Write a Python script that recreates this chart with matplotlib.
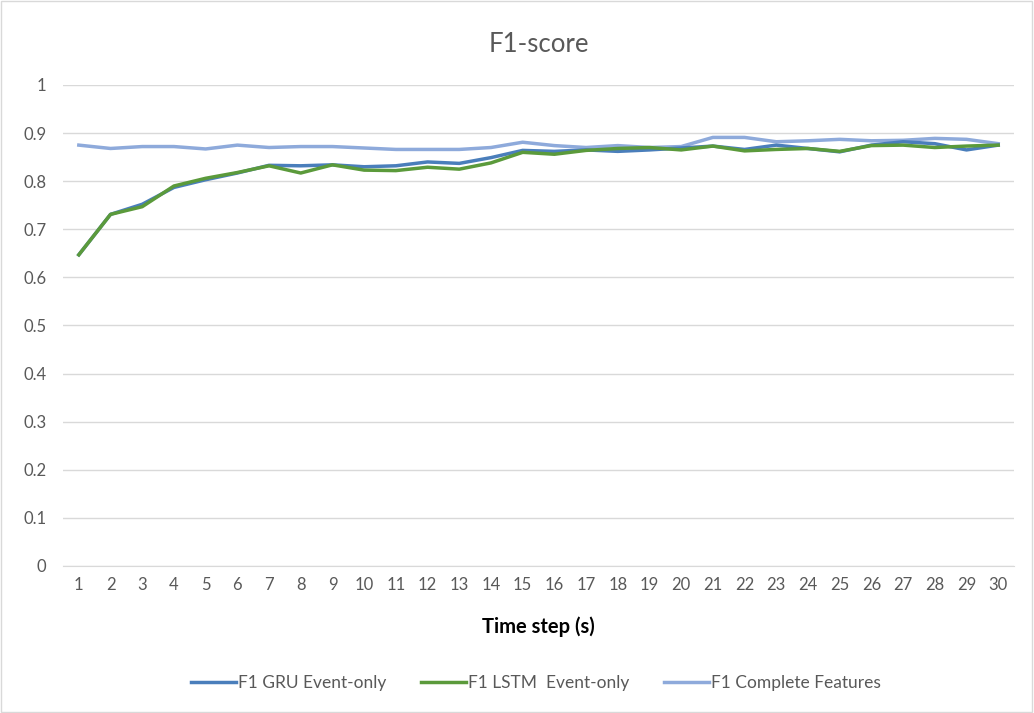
import numpy as np
import matplotlib
matplotlib.use('Agg')
import matplotlib.pyplot as plt
import matplotlib.patches as mpatches

plt.rcParams['font.family'] = ['Lato', 'DejaVu Sans']

steps = list(range(1, 31))
gru = [0.647, 0.731, 0.752, 0.787, 0.803, 0.817, 0.833, 0.832, 0.834, 0.830,
       0.832, 0.840, 0.837, 0.849, 0.864, 0.862, 0.865, 0.862, 0.865, 0.869,
       0.873, 0.866, 0.875, 0.868, 0.861, 0.875, 0.882, 0.878, 0.865, 0.875]
lstm = [0.647, 0.731, 0.747, 0.790, 0.806, 0.818, 0.832, 0.817, 0.834, 0.823,
        0.822, 0.829, 0.825, 0.838, 0.860, 0.856, 0.864, 0.868, 0.870, 0.865,
        0.873, 0.863, 0.866, 0.868, 0.862, 0.874, 0.875, 0.870, 0.873, 0.875]
complete = [0.875, 0.868, 0.872, 0.872, 0.867, 0.875, 0.870, 0.872, 0.872, 0.869,
            0.866, 0.866, 0.866, 0.870, 0.881, 0.874, 0.870, 0.874, 0.870, 0.872,
            0.891, 0.891, 0.882, 0.884, 0.887, 0.884, 0.885, 0.889, 0.887, 0.878]

txt = '#595959'
fig = plt.figure(figsize=(10.34, 7.13), dpi=100)
fig.patches.append(mpatches.Rectangle((0.001, 0.001), 0.997, 0.997, transform=fig.transFigure,
                                      fill=False, edgecolor='#d9d9d9', linewidth=1))
ax = fig.add_axes([0.0609, 0.2062, 0.9198, 0.6746])

ax.plot(steps, gru, color='#4a7ebb', linewidth=2.5, label='F1 GRU Event-only', zorder=3)
ax.plot(steps, lstm, color='#5b9a3b', linewidth=2.5, label='F1 LSTM  Event-only', zorder=4)
ax.plot(steps, complete, color='#8eaadb', linewidth=2.5, label='F1 Complete Features', zorder=2)

ax.set_xlim(0.5, 30.5)
ax.set_ylim(0, 1)
ax.set_xticks(steps)
ax.set_yticks(np.arange(0, 1.01, 0.1))
ax.set_yticklabels(['0', '0.1', '0.2', '0.3', '0.4', '0.5', '0.6', '0.7', '0.8', '0.9', '1'])
ax.grid(axis='y', color='#d9d9d9', linewidth=1)
ax.set_axisbelow(True)
for s in ['top', 'right', 'left']:
    ax.spines[s].set_visible(False)
ax.spines['bottom'].set_color('#d9d9d9')
ax.tick_params(axis='both', length=0, labelsize=12, colors=txt, pad=8)
ax.tick_params(axis='y', pad=12)

ax.set_title('F1-score', fontsize=18.5, color=txt, pad=24)
ax.set_xlabel('Time step (s)', fontsize=14.5, fontweight='bold', color='black', labelpad=17)

ax.legend(loc='upper center', bbox_to_anchor=(0.497, -0.195), ncol=3, frameon=False,
          fontsize=12.5, labelcolor=txt, handlelength=2.6, columnspacing=2.0, handletextpad=0.1)

fig.savefig('out.png', dpi=100)
